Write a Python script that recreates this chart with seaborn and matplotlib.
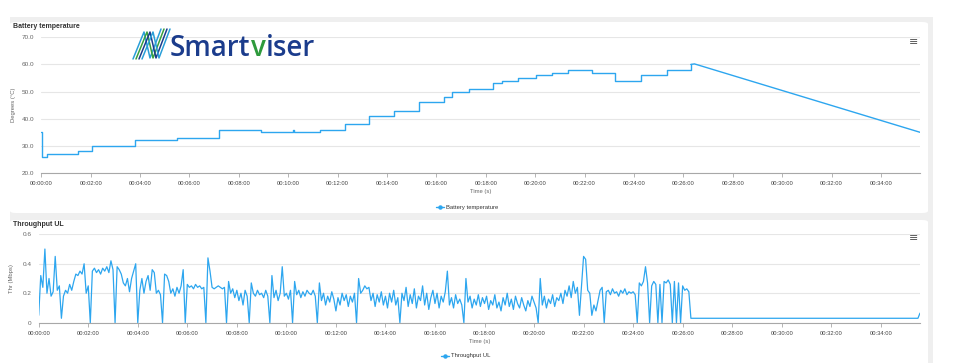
import numpy as np
import pandas as pd
import matplotlib
matplotlib.use("Agg")
import matplotlib.pyplot as plt
import seaborn as sns
from matplotlib.patches import FancyBboxPatch, Rectangle
from matplotlib.lines import Line2D
from matplotlib.ticker import FuncFormatter

# ---------------- data ----------------
temp_time = [0, 2, 14, 89, 123, 228, 330, 432, 534, 612, 614, 678, 737, 797, 858, 918,
             978, 999, 1039, 1098, 1119, 1158, 1202, 1241, 1279, 1338, 1393, 1457, 1520, 1578]
temp_value = [35, 26, 27, 28, 30, 32, 33, 36, 35, 36, 35, 36, 38, 41, 43, 46,
              48, 50, 51, 53, 54, 55, 56, 57, 58, 57, 54, 56, 58, 60]
temp_tail_time = [1578, 1587, 2135]
temp_tail_value = [60, 60.2, 35]

thr_step = 5  # sampling interval (s)
thr_value = [
    0.05, 0.32, 0.24, 0.50, 0.20, 0.30, 0.18, 0.21, 0.45, 0.22, 0.25, 0.03,
    0.18, 0.22, 0.20, 0.26, 0.22, 0.28, 0.33, 0.32, 0.35, 0.33, 0.40, 0.20,
    0.25, 0.00, 0.35, 0.37, 0.34, 0.36, 0.33, 0.37, 0.35, 0.38, 0.34, 0.42,
    0.36, 0.00, 0.38, 0.36, 0.33, 0.27, 0.25, 0.30, 0.21, 0.30, 0.35, 0.40,
    0.00, 0.22, 0.30, 0.20, 0.28, 0.32, 0.22, 0.36, 0.34, 0.20, 0.22, 0.19,
    0.00, 0.33, 0.32, 0.28, 0.20, 0.23, 0.18, 0.24, 0.20, 0.25, 0.36, 0.00,
    0.26, 0.24, 0.25, 0.23, 0.26, 0.24, 0.25, 0.23, 0.24, 0.00, 0.44, 0.35,
    0.24, 0.23, 0.24, 0.25, 0.24, 0.23, 0.24, 0.00, 0.28, 0.20, 0.23, 0.17,
    0.22, 0.15, 0.20, 0.12, 0.22, 0.18, 0.00, 0.27, 0.20, 0.18, 0.22, 0.19,
    0.20, 0.17, 0.22, 0.18, 0.00, 0.32, 0.17, 0.22, 0.15, 0.20, 0.38, 0.18,
    0.20, 0.16, 0.22, 0.00, 0.28, 0.19, 0.22, 0.17, 0.21, 0.18, 0.22, 0.20,
    0.19, 0.22, 0.18, 0.00, 0.27, 0.15, 0.20, 0.12, 0.18, 0.14, 0.21, 0.16,
    0.08, 0.17, 0.12, 0.20, 0.15, 0.19, 0.11, 0.18, 0.14, 0.20, 0.00, 0.30,
    0.20, 0.22, 0.25, 0.23, 0.24, 0.15, 0.20, 0.11, 0.19, 0.14, 0.21, 0.12,
    0.18, 0.10, 0.20, 0.14, 0.22, 0.12, 0.17, 0.00, 0.20, 0.15, 0.24, 0.11,
    0.19, 0.13, 0.23, 0.10, 0.18, 0.15, 0.25, 0.12, 0.20, 0.09, 0.17, 0.22,
    0.13, 0.20, 0.10, 0.18, 0.14, 0.21, 0.35, 0.12, 0.17, 0.10, 0.19, 0.13,
    0.16, 0.12, 0.00, 0.30, 0.14, 0.18, 0.10, 0.16, 0.12, 0.19, 0.11, 0.17,
    0.13, 0.18, 0.09, 0.15, 0.12, 0.19, 0.10, 0.14, 0.08, 0.17, 0.12, 0.20,
    0.11, 0.16, 0.09, 0.18, 0.13, 0.10, 0.17, 0.12, 0.08, 0.15, 0.11, 0.18,
    0.14, 0.10, 0.00, 0.30, 0.12, 0.18, 0.10, 0.16, 0.13, 0.19, 0.11, 0.17,
    0.15, 0.20, 0.13, 0.22, 0.18, 0.25, 0.17, 0.28, 0.20, 0.24, 0.05, 0.25,
    0.45, 0.43, 0.22, 0.20, 0.05, 0.12, 0.08, 0.15, 0.22, 0.24, 0.00, 0.21,
    0.22, 0.19, 0.23, 0.20, 0.21, 0.18, 0.22, 0.20, 0.23, 0.19, 0.21, 0.20,
    0.21, 0.19, 0.00, 0.27, 0.25, 0.28, 0.38, 0.27, 0.00, 0.25, 0.28, 0.26,
    0.00, 0.26, 0.00, 0.28, 0.27, 0.29, 0.26, 0.00, 0.28, 0.00, 0.27, 0.00,
    0.25, 0.22, 0.23, 0.21, 0.03,
]
thr_tail_time = [2130, 2135]
thr_tail_value = [0.03, 0.065]

x_max = 2135
x_ticks = list(range(0, 2041, 120))
temp_ticks = [20, 30, 40, 50, 60, 70]
thr_ticks = [0, 0.2, 0.4, 0.6]

# ---------------- style ----------------
sns.set_theme(style="white")
plt.rcParams["font.family"] = ["Liberation Sans", "DejaVu Sans"]

W, H = 980, 363
fig = plt.figure(figsize=(W / 100, H / 100), dpi=100)
fig.patch.set_facecolor("white")

def fx(px):
    return px / W

def fy(py):
    return 1 - py / H

LINE = "#2da6ef"
GRID = "#e6e6e6"
LABEL = "#666666"

# page background and cards
fig.patches.append(Rectangle((fx(10), fy(363)), fx(933) - fx(10), fy(17) - fy(363),
                             transform=fig.transFigure, facecolor="#efefef",
                             edgecolor="none", zorder=-10))
for top, bot in [(22, 213), (220, 372)]:
    fig.patches.append(FancyBboxPatch((fx(10), fy(bot)), fx(928) - fx(10), fy(top) - fy(bot),
                                      boxstyle="round,pad=0,rounding_size=0.006",
                                      transform=fig.transFigure, facecolor="white",
                                      edgecolor="none", zorder=-9))

def tfmt(s, pos=None):
    s = int(round(s))
    return f"00:{s // 60:02d}:{s % 60:02d}"

def style_axes(ax, yticks, yfmt):
    ax.set_facecolor("none")
    ax.set_xlim(0, x_max)
    ax.set_xticks(x_ticks)
    ax.xaxis.set_major_formatter(FuncFormatter(tfmt))
    ax.set_yticks(yticks)
    ax.yaxis.set_major_formatter(FuncFormatter(yfmt))
    ax.set_ylim(yticks[0], yticks[-1])
    ax.grid(axis="y", color=GRID, linewidth=0.8)
    ax.grid(axis="x", visible=False)
    for sp in ["top", "right", "left"]:
        ax.spines[sp].set_visible(False)
    ax.spines["bottom"].set_color("#a8a8a8")
    ax.spines["bottom"].set_linewidth(0.8)
    ax.tick_params(axis="x", length=3, width=0.6, color="#a8a8a8", labelsize=4.2,
                   labelcolor="#444444", pad=3, bottom=True)
    ax.tick_params(axis="y", length=0, labelsize=4.6, labelcolor=LABEL, pad=5)
    ax.set_axisbelow(True)

# ---------------- top: battery temperature ----------------
ax1 = fig.add_axes([fx(41.3), fy(173), fx(920) - fx(41.3), fy(37.3) - fy(173)])
df_t = pd.DataFrame({"time": temp_time, "value": temp_value})
df_tt = pd.DataFrame({"time": temp_tail_time, "value": temp_tail_value})
sns.lineplot(data=df_t, x="time", y="value", ax=ax1, color=LINE, linewidth=1.0,
             drawstyle="steps-post")
sns.lineplot(data=df_tt, x="time", y="value", ax=ax1, color=LINE, linewidth=1.0)
style_axes(ax1, temp_ticks, lambda v, p: f"{v:.1f}")
ax1.set_xlabel("Time (s)", fontsize=4.2, color=LABEL, labelpad=2)
ax1.set_ylabel("Degrees (°C)", fontsize=4.2, color=LABEL, labelpad=4)

# ---------------- bottom: throughput ----------------
ax2 = fig.add_axes([fx(38.7), fy(322.7), fx(920) - fx(38.7), fy(234.3) - fy(322.7)])
thr_time = list(np.arange(len(thr_value)) * thr_step) + thr_tail_time
df_u = pd.DataFrame({"time": thr_time, "value": thr_value + thr_tail_value})
sns.lineplot(data=df_u, x="time", y="value", ax=ax2, color=LINE, linewidth=0.9)
style_axes(ax2, thr_ticks, lambda v, p: "0" if v == 0 else f"{v:.1f}")
ax2.set_xlabel("Time (s)", fontsize=4.2, color=LABEL, labelpad=2)
ax2.set_ylabel("Thr (Mbps)", fontsize=4.2, color=LABEL, labelpad=6)

# ---------------- titles, legends, menu icons ----------------
fig.text(fx(13), fy(27), "Battery temperature", fontsize=5, fontweight="bold",
         color="#333333", va="center", ha="left")
fig.text(fx(13), fy(224), "Throughput UL", fontsize=5, fontweight="bold",
         color="#333333", va="center", ha="left")
for py in (41.5, 238.5):
    fig.text(fx(914), fy(py), "≡", fontsize=8, color="#555555", ha="center", va="center",
             family="DejaVu Sans")

for (lx, ly, lab) in [(440, 207, "Battery temperature"), (445, 356, "Throughput UL")]:
    fig.add_artist(Line2D([fx(lx - 4), fx(lx + 4)], [fy(ly), fy(ly)], color=LINE,
                          linewidth=1.0, transform=fig.transFigure))
    fig.add_artist(Line2D([fx(lx)], [fy(ly)], color=LINE, marker="o", markersize=2.2,
                          transform=fig.transFigure))
    fig.text(fx(lx + 6), fy(ly), lab, fontsize=4.2, color="#333333", va="center", ha="left")

# ---------------- logo ----------------
icon_cols = ["#2a9fd8", "#3aa040", "#1b3c8c", "#2a9fd8"]
for i, c in enumerate(icon_cols):
    dx = i * 3.0
    xs = [133 + dx, 144 + dx, 150 + dx, 161 + dx]
    ys = [59, 32, 58, 29]
    fig.add_artist(Line2D([fx(v) for v in xs], [fy(v) for v in ys], color=c,
                          linewidth=1.1, transform=fig.transFigure))
logo_y = fy(49)
t1 = fig.text(fx(170), logo_y, "Smart", fontsize=20, color="#1b3c8c",
              va="center", ha="left", family="Open Sans", fontweight="semibold")
fig.canvas.draw()
r = fig.canvas.get_renderer()
bb = t1.get_window_extent(r)
t2 = fig.text(bb.x1 / W, logo_y, "v", fontsize=20, color="#2e9a3c", va="center",
              ha="left", family="Open Sans", fontweight="semibold")
bb2 = t2.get_window_extent(r)
fig.text(bb2.x1 / W, logo_y, "iser", fontsize=20, color="#1b3c8c", va="center",
         ha="left", family="Open Sans", fontweight="semibold")

fig.savefig("out.png", dpi=100, facecolor="white")
